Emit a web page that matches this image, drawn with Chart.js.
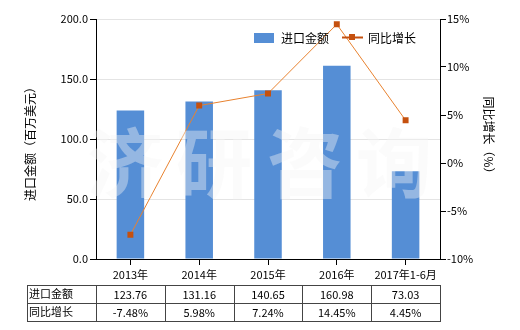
<!DOCTYPE html>
<html><head><meta charset="utf-8">
<script src="https://cdn.jsdelivr.net/npm/chart.js@4/dist/chart.umd.min.js"></script>
<style>html,body{margin:0;padding:0;background:#fff}#wrap{width:520px;height:330px}</style>
</head><body><div id="wrap"><canvas id="c" width="520" height="330"></canvas></div>
<script>
const categories = ["2013年","2014年","2015年","2016年","2017年1-6月"];
const importValues = [123.76,131.16,140.65,160.98,73.03];
const growthValues = [-7.48,5.98,7.24,14.45,4.45];
const importLabels = ["123.76","131.16","140.65","160.98","73.03"];
const growthLabels = ["-7.48%","5.98%","7.24%","14.45%","4.45%"];
const seriesNames = ["进口金额","同比增长"];
const leftTitle = "进口金额（百万美元）";
const rightTitle = "同比增长（%）";
const watermark = ["济","研","咨","询"];

const FONT = '"Noto Sans CJK SC", "Noto Sans", sans-serif';
const BAR = '#558ed5', LINE = '#e8822f', MARK = '#c5500e';

const extras = {
  id:'extras',
  afterDraw(chart){
    const ctx = chart.ctx, x = chart.scales.x, ca = chart.chartArea;
    ctx.save();
    // watermark
    ctx.font = 'bold 76px ' + FONT;
    ctx.fillStyle = 'rgba(244,244,244,0.40)';
    ctx.textAlign='center'; ctx.textBaseline='middle';
    const wx=[125,214,305,394];
    watermark.forEach((ch,i)=>{ ctx.fillText(ch, wx[i], 163); });
    // axis titles
    ctx.fillStyle='#000'; ctx.font='12px '+FONT;
    ctx.save(); ctx.translate(30,141); ctx.rotate(-Math.PI/2); ctx.textAlign='center'; ctx.textBaseline='middle'; ctx.fillText(leftTitle,0,0); ctx.restore();
    ctx.save(); ctx.translate(489,138); ctx.rotate(Math.PI/2); ctx.textAlign='center'; ctx.textBaseline='middle'; ctx.fillText(rightTitle,0,0); ctx.restore();
    // legend
    ctx.font='12px '+FONT; ctx.textAlign='left'; ctx.textBaseline='middle';
    ctx.fillStyle=BAR; ctx.fillRect(254,33,20,10);
    ctx.fillStyle='#000'; ctx.fillText(seriesNames[0],281,38);
    ctx.strokeStyle=MARK; ctx.lineWidth=2; ctx.beginPath(); ctx.moveTo(342,37.5); ctx.lineTo(363,37.5); ctx.stroke();
    ctx.fillStyle=MARK; ctx.fillRect(349,34,6,6);
    ctx.fillStyle='#000'; ctx.fillText(seriesNames[1],368,38);
    // table
    const top=285, mid=303, bot=321, left=27;
    const bounds=[left, ca.left];
    for(let i=0;i<categories.length;i++){ bounds.push(x.getPixelForValue(i)+ (x.getPixelForValue(1)-x.getPixelForValue(0))/2); }
    ctx.strokeStyle='#444'; ctx.lineWidth=1;
    ctx.beginPath();
    [top,mid,bot].forEach(y=>{ctx.moveTo(left,y+0.5);ctx.lineTo(ca.right,y+0.5);});
    bounds.forEach(b=>{const bx=Math.round(b)+0.5; ctx.moveTo(bx,top); ctx.lineTo(bx,bot+1);});
    ctx.stroke();
    ctx.fillStyle='#000'; ctx.font='11px '+FONT;
    ctx.textAlign='left';
    ctx.fillText(seriesNames[0],left+2,294); ctx.fillText(seriesNames[1],left+2,312);
    ctx.textAlign='center';
    for(let i=0;i<categories.length;i++){
      const cx=x.getPixelForValue(i);
      ctx.fillText(importLabels[i],cx,295); ctx.fillText(growthLabels[i],cx,313);
    }
    ctx.restore();
  }
};

new Chart(document.getElementById('c'),{
  data:{
    labels:categories,
    datasets:[
      {type:'line',label:seriesNames[1],data:growthValues,yAxisID:'y1',borderColor:LINE,borderWidth:1,
       pointStyle:'rect',pointRadius:4.2,pointBackgroundColor:MARK,pointBorderColor:MARK,pointBorderWidth:0,tension:0,order:0},
      {type:'bar',label:seriesNames[0],data:importValues,yAxisID:'y',backgroundColor:BAR,
       categoryPercentage:1,barPercentage:0.4,order:1}
    ]
  },
  options:{
    responsive:false,animation:false,devicePixelRatio:1,
    layout:{padding:{left:0,right:0,top:19,bottom:0}},
    plugins:{legend:{display:false},tooltip:{enabled:false}},
    scales:{
      x:{offset:true,grid:{offset:false,drawOnChartArea:false,color:'#000',tickLength:6},border:{color:'#000'},
         ticks:{color:'#000',font:{family:FONT,size:11},maxRotation:0,padding:3},
         afterFit(s){s.height=71;}},
      y:{position:'left',min:0,max:200,grid:{color:'#e4e4e4',tickColor:'#000',tickLength:6},border:{color:'#000'},
         ticks:{stepSize:50,color:'#000',font:{family:FONT,size:11},padding:2,callback:v=>v.toFixed(1)},
         afterFit(s){s.width=96;}},
      y1:{position:'right',min:-10,max:15,grid:{drawOnChartArea:false,color:'#000',tickLength:6},border:{color:'#000'},
         ticks:{stepSize:5,color:'#000',font:{family:FONT,size:11},padding:1,callback:v=>v+'%'},
         afterFit(s){s.width=80;}}
    }
  },
  plugins:[extras]
});
</script></body></html>
